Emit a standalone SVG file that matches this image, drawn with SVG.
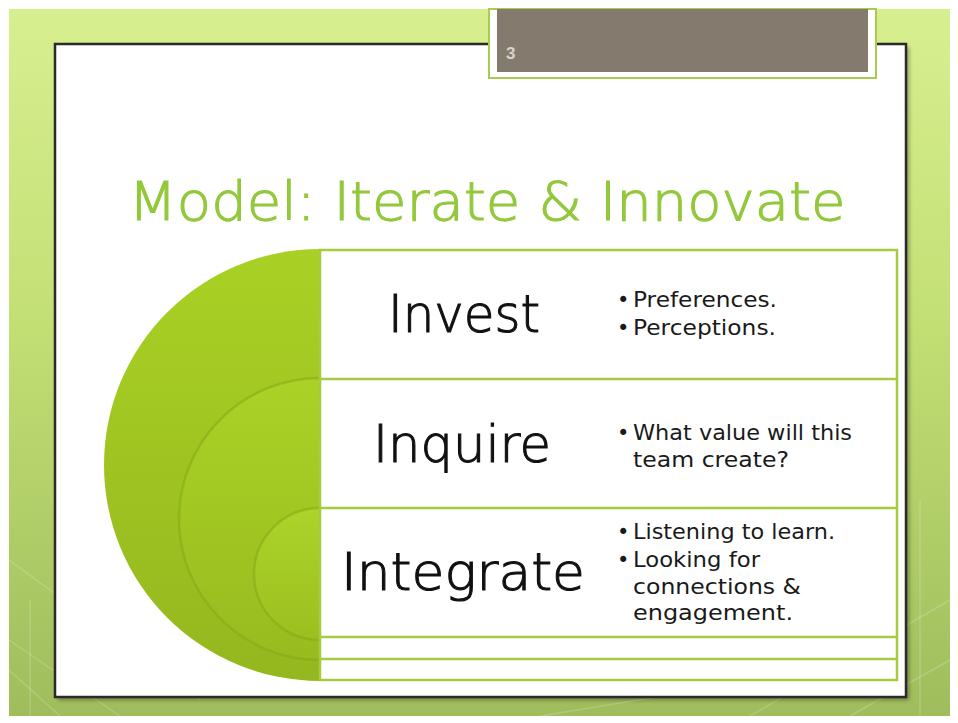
<svg xmlns="http://www.w3.org/2000/svg" width="958" height="723" viewBox="0 0 958 723">
<defs>
<linearGradient id="bg" x1="0" y1="0" x2="0" y2="1">
<stop offset="0" stop-color="#d8ef90"/>
<stop offset="0.45" stop-color="#c2df74"/>
<stop offset="1" stop-color="#9fbd5c"/>
</linearGradient>
<linearGradient id="g1" x1="0" y1="0" x2="0" y2="1">
<stop offset="0" stop-color="#a9d124"/>
<stop offset="1" stop-color="#95b71f"/>
</linearGradient>
<linearGradient id="g2" x1="0" y1="0" x2="0" y2="1">
<stop offset="0" stop-color="#aad226"/>
<stop offset="1" stop-color="#98bb1f"/>
</linearGradient>
<linearGradient id="g3" x1="0" y1="0" x2="0" y2="1">
<stop offset="0" stop-color="#acd42a"/>
<stop offset="1" stop-color="#9cbf20"/>
</linearGradient>
<clipPath id="half"><rect x="0" y="0" width="320" height="723"/></clipPath>
<filter id="sh" x="-5%" y="-5%" width="110%" height="110%">
<feGaussianBlur stdDeviation="2"/>
</filter>
</defs>
<style>
.big{font-family:"DejaVu Sans","Liberation Sans",sans-serif;font-size:52px;font-weight:200;fill:#111111;stroke:#111111;stroke-width:1.1}
.bul{font-family:"DejaVu Sans","Liberation Sans",sans-serif;font-size:21px;fill:#1a1a1a}
.rowline{stroke:#a6cb3c;stroke-width:2.5;fill:none}
.ring{stroke:#86a71a;stroke-width:2.5;stroke-opacity:0.55}
</style>
<rect x="0" y="0" width="958" height="723" fill="#ffffff"/>
<rect x="9" y="9" width="941" height="707" fill="url(#bg)"/>
<g stroke="#ffffff" stroke-opacity="0.18" stroke-width="1.5" fill="none">
<path d="M9 560 L200 700"/><path d="M9 640 L120 716"/><path d="M60 716 L9 670"/>
<path d="M750 716 L950 600"/><path d="M850 716 L950 660"/><path d="M540 716 L700 690"/>
<path d="M30 600 L30 716"/><path d="M920 500 L920 716"/>
</g>
<rect x="58" y="47" width="851" height="653" fill="#000000" opacity="0.35" filter="url(#sh)"/>
<rect x="55" y="44" width="851" height="653" fill="#ffffff" stroke="#2a2a2a" stroke-width="2.5"/>
<g id="slide-number">
<rect x="489" y="9" width="387" height="69" fill="#ffffff" stroke="#a8cc50" stroke-width="2"/>
<rect x="497" y="9" width="371" height="63" fill="#857a6e"/>
<text x="506" y="59" font-family="Liberation Sans, sans-serif" font-size="17" font-weight="bold" fill="#d9d3cb">3</text>
</g>
<g id="title">
<text x="487" y="220" text-anchor="middle" font-family="DejaVu Sans, Liberation Sans, sans-serif" font-size="53" font-weight="200" fill="#93c83c" stroke="#93c83c" stroke-width="1.1" textLength="717" lengthAdjust="spacingAndGlyphs">Model: Iterate &amp; Innovate</text>
</g>
<g id="circles" clip-path="url(#half)">
<circle cx="320" cy="465" r="216" fill="url(#g1)"/>
<circle cx="320" cy="519" r="141" fill="url(#g2)" class="ring"/>
<circle cx="320" cy="574" r="66" fill="url(#g3)" class="ring"/>
</g>
<g id="connectors">
<rect x="320" y="250" width="577" height="430" fill="#fffffb" class="rowline"/>
<line x1="320" y1="379" x2="897" y2="379" class="rowline"/>
<line x1="320" y1="508" x2="897" y2="508" class="rowline"/>
<line x1="320" y1="637" x2="897" y2="637" class="rowline"/>
<line x1="320" y1="659" x2="897" y2="659" class="rowline"/>
</g>
<g id="row-invest">
<text x="464" y="332" text-anchor="middle" class="big" textLength="152" lengthAdjust="spacingAndGlyphs">Invest</text>
<text x="617" y="307" class="bul">•</text>
<text x="633" y="307" class="bul" textLength="144" lengthAdjust="spacingAndGlyphs">Preferences.</text>
<text x="617" y="335" class="bul">•</text>
<text x="633" y="335" class="bul" textLength="143" lengthAdjust="spacingAndGlyphs">Perceptions.</text>
</g>
<g id="row-inquire">
<text x="462" y="462" text-anchor="middle" class="big" textLength="178" lengthAdjust="spacingAndGlyphs">Inquire</text>
<text x="617" y="440" class="bul">•</text>
<text x="633" y="440" class="bul" textLength="219" lengthAdjust="spacingAndGlyphs">What value will this</text>
<text x="633" y="467" class="bul" textLength="156" lengthAdjust="spacingAndGlyphs">team create?</text>
</g>
<g id="row-integrate">
<text x="463" y="590" text-anchor="middle" class="big" textLength="244" lengthAdjust="spacingAndGlyphs">Integrate</text>
<text x="617" y="539" class="bul">•</text>
<text x="633" y="539" class="bul" textLength="202" lengthAdjust="spacingAndGlyphs">Listening to learn.</text>
<text x="617" y="567" class="bul">•</text>
<text x="633" y="567" class="bul" textLength="127" lengthAdjust="spacingAndGlyphs">Looking for</text>
<text x="633" y="594" class="bul" textLength="168" lengthAdjust="spacingAndGlyphs">connections &amp;</text>
<text x="633" y="620" class="bul" textLength="160" lengthAdjust="spacingAndGlyphs">engagement.</text>
</g>
</svg>
